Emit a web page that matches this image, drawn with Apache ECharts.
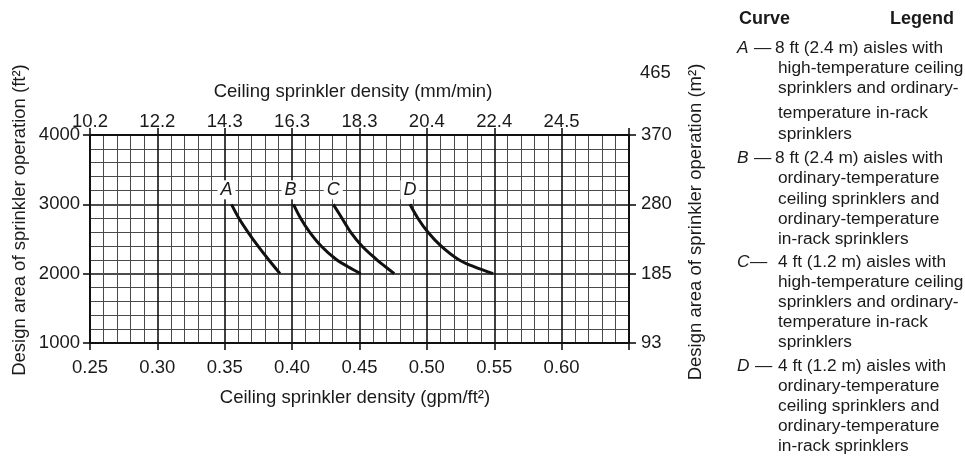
<!DOCTYPE html>
<html>
<head>
<meta charset="utf-8">
<script src="https://cdn.jsdelivr.net/npm/echarts@6/dist/echarts.min.js"></script>
<style>
html,body{margin:0;padding:0;background:#fff;}
#chart{width:965px;height:456px;}
</style>
</head>
<body>
<div id="chart"></div>
<script>
// ---- data ----
const bottomTickValues = [0.25, 0.30, 0.35, 0.40, 0.45, 0.50, 0.55, 0.60];
const topTickLabels = ['10.2', '12.2', '14.3', '16.3', '18.3', '20.4', '22.4', '24.5'];
const leftTickValues = [1000, 2000, 3000, 4000];
const rightTickLabels = ['93', '185', '280', '370'];
const rightExtraLabel = '465';
const curveNames = ['A', 'B', 'C', 'D'];
const curveA = [[0.355, 3000], [0.3605, 2800], [0.3672, 2600], [0.3746, 2400], [0.3826, 2200], [0.391, 2000]];
const curveB = [[0.401, 3000], [0.4063, 2800], [0.413, 2600], [0.4215, 2400], [0.433, 2200], [0.4415, 2100], [0.4508, 2000]];
const curveC = [[0.4305, 3000], [0.437, 2800], [0.4434, 2600], [0.4518, 2400], [0.4629, 2200], [0.4693, 2100], [0.4758, 2000]];
const curveD = [[0.4874, 3000], [0.4933, 2800], [0.5007, 2600], [0.5104, 2400], [0.5237, 2200], [0.5349, 2100], [0.5492, 2000]];
const legendLines = {
  A: ['8 ft (2.4 m) aisles with', 'high-temperature ceiling', 'sprinklers and ordinary-', 'temperature in-rack', 'sprinklers'],
  B: ['8 ft (2.4 m) aisles with', 'ordinary-temperature', 'ceiling sprinklers and', 'ordinary-temperature', 'in-rack sprinklers'],
  C: ['4 ft (1.2 m) aisles with', 'high-temperature ceiling', 'sprinklers and ordinary-', 'temperature in-rack', 'sprinklers'],
  D: ['4 ft (1.2 m) aisles with', 'ordinary-temperature', 'ceiling sprinklers and', 'ordinary-temperature', 'in-rack sprinklers']
};

// ---- chart ----
const FONT = "'Liberation Sans', Arial, Helvetica, sans-serif";
const TXT = '#1a1a1a';
const AF = 18.5;
const chart = echarts.init(document.getElementById('chart'), null, {renderer: 'canvas'});

const idx = v => Math.round((v - 0.25) / 0.05);
const majorLine = {show: true, lineStyle: {color: '#111', width: 1.6}};
const minorLine = {show: true, lineStyle: {color: '#4a4a4a', width: 1}};
const axisLineStyle = {show: true, onZero: false, lineStyle: {color: '#111', width: 2}};
const tickStyle = {show: true, length: 7, lineStyle: {color: '#111', width: 1.6}};

const curves = [curveA, curveB, curveC, curveD];
const labelOffsets = [[-5, 0], [-3, 0], [0, 0], [0, 0]];

const series = curves.map((c, i) => ({
  type: 'line',
  name: curveNames[i],
  smooth: 0.35,
  symbol: 'circle',
  symbolSize: 0,
  showSymbol: true,
  lineStyle: {color: '#111', width: 3},
  itemStyle: {color: '#111'},
  z: 5,
  data: c.map((p, j) => j === 0 ? {
    value: p,
    label: {
      show: true, formatter: curveNames[i], position: 'top', distance: 5,
      offset: labelOffsets[i],
      fontStyle: 'italic', fontSize: 18, fontFamily: FONT, color: TXT,
      backgroundColor: '#fff', padding: [1, 3, 0, 3]
    }
  } : {value: p})
}));

const option = {
  animation: false,
  backgroundColor: '#fff',
  grid: {left: 90, right: 336, top: 135, bottom: 113, containLabel: false},
  xAxis: [
    {
      type: 'value', position: 'bottom', min: 0.25, max: 0.65, interval: 0.05,
      axisLine: axisLineStyle, axisTick: tickStyle,
      axisLabel: {
        fontSize: AF, fontFamily: FONT, color: TXT, margin: 15,
        formatter: v => (idx(v) < bottomTickValues.length ? bottomTickValues[idx(v)].toFixed(2) : '')
      },
      splitLine: majorLine,
      minorTick: {show: false, splitNumber: 5},
      minorSplitLine: minorLine
    },
    {
      type: 'value', position: 'top', min: 0.25, max: 0.65, interval: 0.05,
      axisLine: axisLineStyle, axisTick: tickStyle,
      axisLabel: {
        fontSize: AF, fontFamily: FONT, color: TXT, margin: 4,
        formatter: v => (idx(v) < topTickLabels.length ? topTickLabels[idx(v)] : '')
      },
      splitLine: {show: false}
    }
  ],
  yAxis: [
    {
      type: 'value', position: 'left', min: 1000, max: 4000, interval: 1000,
      axisLine: axisLineStyle, axisTick: tickStyle,
      axisLabel: {fontSize: AF, fontFamily: FONT, color: TXT, margin: 10,
        formatter: v => String(leftTickValues[Math.round((v - 1000) / 1000)])},
      splitLine: majorLine,
      minorTick: {show: false, splitNumber: 5},
      minorSplitLine: minorLine
    },
    {
      type: 'value', position: 'right', min: 1000, max: 4000, interval: 1000,
      axisLine: axisLineStyle, axisTick: tickStyle,
      axisLabel: {fontSize: AF, fontFamily: FONT, color: TXT, margin: 12,
        formatter: v => rightTickLabels[Math.round((v - 1000) / 1000)]},
      splitLine: {show: false}
    }
  ],
  series: series
};
chart.setOption(option);

// axis titles, extra label and the curve legend (text)
const graphics = [];
const AFONT = AF + 'px ' + FONT;
graphics.push({type: 'text', x: 353, y: 92, style: {text: 'Ceiling sprinkler density (mm/min)', font: AFONT, fill: TXT, textAlign: 'center', textVerticalAlign: 'middle'}});
graphics.push({type: 'text', x: 355, y: 398, style: {text: 'Ceiling sprinkler density (gpm/ft²)', font: AFONT, fill: TXT, textAlign: 'center', textVerticalAlign: 'middle'}});
graphics.push({type: 'text', x: 20, y: 220, rotation: Math.PI / 2, style: {text: 'Design area of sprinkler operation (ft²)', font: AFONT, fill: TXT, textAlign: 'center', textVerticalAlign: 'middle'}});
graphics.push({type: 'text', x: 696, y: 222, rotation: Math.PI / 2, style: {text: 'Design area of sprinkler operation (m²)', font: AFONT, fill: TXT, textAlign: 'center', textVerticalAlign: 'middle'}});
const p5000 = chart.convertToPixel({yAxisIndex: 1}, 5000);
graphics.push({type: 'text', x: 640, y: p5000 + 7, style: {text: rightExtraLabel, font: AFONT, fill: TXT, textVerticalAlign: 'middle'}});

// legend block
const LF = '17.3px ' + FONT;
graphics.push({type: 'text', x: 739, y: 19, style: {text: 'Curve', font: 'bold 18px ' + FONT, fill: TXT, textVerticalAlign: 'middle'}});
graphics.push({type: 'text', x: 954, y: 19, style: {text: 'Legend', font: 'bold 18px ' + FONT, fill: TXT, textAlign: 'right', textVerticalAlign: 'middle'}});
const blockStarts = {A: 48, B: 158, C: 262, D: 366};
const dashX = {A: 754, B: 754, C: 750, D: 755};
const firstX = {A: 775, B: 775, C: 778, D: 778};
const lineGaps = {A: [0, 20, 40, 65, 86], B: [0, 20, 41, 61, 81], C: [0, 20, 40, 60, 80], D: [0, 20, 40, 60, 80]};
curveNames.forEach(n => {
  const y0 = blockStarts[n];
  graphics.push({type: 'text', x: 737, y: y0, style: {text: n, font: 'italic ' + LF, fill: TXT, textVerticalAlign: 'middle'}});
  graphics.push({type: 'text', x: dashX[n], y: y0, style: {text: '—', font: LF, fill: TXT, textVerticalAlign: 'middle'}});
  legendLines[n].forEach((s, k) => {
    graphics.push({type: 'text', x: k === 0 ? firstX[n] : 778, y: y0 + lineGaps[n][k], style: {text: s, font: LF, fill: TXT, textVerticalAlign: 'middle'}});
  });
});
chart.setOption({graphic: graphics});
</script>
</body>
</html>
